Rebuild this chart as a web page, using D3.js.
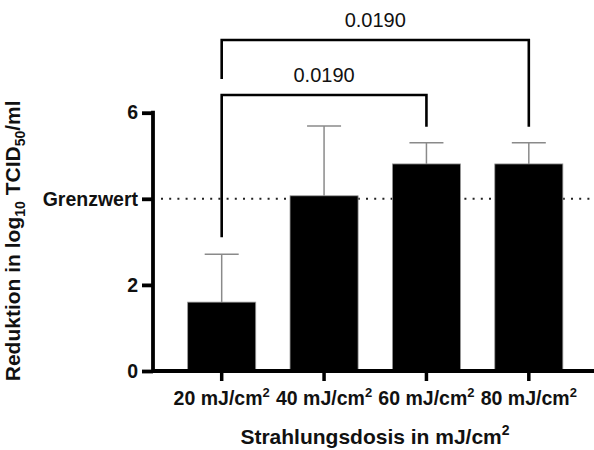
<!DOCTYPE html>
<html>
<head>
<meta charset="utf-8">
<script src="https://cdn.jsdelivr.net/npm/d3@7"></script>
<style>
  body { margin: 0; background: #fff; }
  svg { display: block; }
  text { font-family: "Liberation Sans", Arial, sans-serif; }
</style>
</head>
<body>
<svg id="chart" width="594" height="450"></svg>
<script>
// ---- data ----
const doses = [20, 40, 60, 80];
const doseUnit = "mJ/cm";
const means = [1.60, 4.07, 4.81, 4.81];
const sds = [1.11, 1.62, 0.49, 0.49];
const yTicks = [0, 2, 4, 6];
const yTickLabels = ["0", "2", "Grenzwert", "6"];
const threshold = 4;
const compFrom = [0, 0];
const compTo = [2, 3];
const compP = ["0.0190", "0.0190"];
const xTitle = "Strahlungsdosis in mJ/cm";
const yTitleParts = ["Reduktion in log", "10", " TCID", "50", "/ml"];

// ---- layout ----
const svg = d3.select("#chart");
const axisX = 153;
const x = d3.scaleBand().domain(d3.range(doses.length))
  .range([170.5, 580]).paddingInner(0.335).paddingOuter(0.1675);
const y = d3.scaleLinear().domain([0, 6]).range([371, 112.7]);

// threshold dotted line (behind bars)
svg.append("line")
  .attr("x1", axisX + 8).attr("x2", 594)
  .attr("y1", y(threshold)).attr("y2", y(threshold))
  .attr("stroke", "#222").attr("stroke-width", 2)
  .attr("stroke-dasharray", "2,6.2");

// error bars (upper only)
const cx = i => x(i) + x.bandwidth() / 2;
const eg = svg.append("g").attr("stroke", "#8a8a8a").attr("stroke-width", 1.5);
means.forEach((m, i) => {
  const top = y(m + sds[i]);
  eg.append("line").attr("x1", cx(i)).attr("x2", cx(i)).attr("y1", y(m)).attr("y2", top);
  eg.append("line").attr("x1", cx(i) - 17).attr("x2", cx(i) + 17).attr("y1", top).attr("y2", top);
});

// bars
svg.append("g").selectAll("rect").data(means).join("rect")
  .attr("x", (d, i) => x(i))
  .attr("width", x.bandwidth())
  .attr("y", d => y(d))
  .attr("height", d => y(0) - y(d))
  .attr("fill", "#000")
  .attr("stroke", "#999").attr("stroke-width", 0.8);

// y axis
const yAxis = d3.axisLeft(y).tickValues(yTicks)
  .tickFormat((d, i) => yTickLabels[i]).tickSize(11).tickPadding(4);
const gy = svg.append("g").attr("transform", `translate(${axisX},0)`).call(yAxis);
gy.select(".domain").remove();
gy.selectAll(".tick line").attr("stroke", "#000").attr("stroke-width", 3.8);
gy.selectAll(".tick text").attr("font-size", 19.5).attr("font-weight", "bold").attr("fill", "#111");
svg.append("line").attr("x1", axisX).attr("x2", axisX)
  .attr("y1", y(6) - 1.9).attr("y2", y(0) + 1.9)
  .attr("stroke", "#000").attr("stroke-width", 3.8);

// x axis
svg.append("line").attr("x1", axisX).attr("x2", 594)
  .attr("y1", y(0)).attr("y2", y(0))
  .attr("stroke", "#000").attr("stroke-width", 3.8);
const xAxis = d3.axisBottom(x).tickSize(10).tickFormat("");
const gx = svg.append("g").attr("transform", `translate(0,${y(0)})`).call(xAxis);
gx.select(".domain").remove();
gx.selectAll(".tick line").attr("stroke", "#000").attr("stroke-width", 3.5);
doses.forEach((d, i) => {
  const t = svg.append("text").attr("x", cx(i)).attr("y", 405)
    .attr("text-anchor", "middle").attr("font-size", 19.5)
    .attr("font-weight", "bold").attr("fill", "#111");
  t.append("tspan").text(`${d} ${doseUnit}`);
  t.append("tspan").attr("font-size", 13).attr("dy", -8).text("2");
});

// x title
const xt = svg.append("text").attr("x", 375).attr("y", 444)
  .attr("text-anchor", "middle").attr("font-size", 21)
  .attr("font-weight", "bold").attr("fill", "#111");
xt.append("tspan").text(xTitle);
xt.append("tspan").attr("font-size", 14).attr("dy", -9).text("2");

// y title
const yt = svg.append("text")
  .attr("transform", `translate(20,${(y(0) + y(6)) / 2 - 1}) rotate(-90)`)
  .attr("text-anchor", "middle").attr("font-size", 21)
  .attr("font-weight", "bold").attr("fill", "#111");
yTitleParts.forEach((p, i) => {
  const sub = i === 1 || i === 3;
  const ts = yt.append("tspan").text(p);
  if (sub) ts.attr("font-size", 14).attr("dy", 5);
  else if (i > 0) ts.attr("dy", -5);
});

// significance brackets
const errTop = means.map((m, i) => y(m + sds[i]));
const bg = svg.append("g").attr("stroke", "#000").attr("stroke-width", 2.6).attr("fill", "none");
const legFloor = errTop.slice();
compFrom.forEach((a, k) => {
  const b = compTo[k];
  const maxTop = d3.min(errTop.slice(a, b + 1));
  const by = maxTop - 31 - k * 55;
  const x1 = cx(a), x2 = cx(b);
  bg.append("path").attr("d",
    `M${x1},${legFloor[a] - 17}V${by}H${x2}V${legFloor[b] - 16}`);
  svg.append("text").attr("x", (x1 + x2) / 2).attr("y", by - 13)
    .attr("text-anchor", "middle").attr("font-size", 20).attr("fill", "#111")
    .text(compP[k]);
  legFloor[a] = by + 1;
});
</script>
</body>
</html>
